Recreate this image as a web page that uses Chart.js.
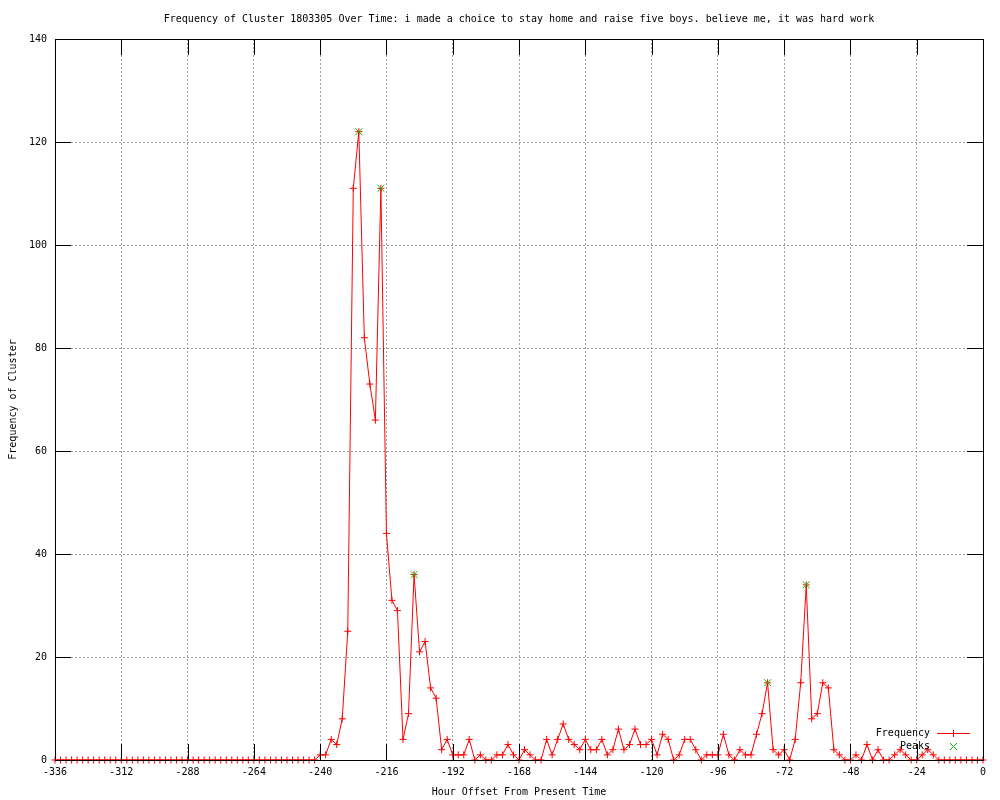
<!DOCTYPE html>
<html>
<head>
<meta charset="utf-8">
<script src="https://cdn.jsdelivr.net/npm/chart.js@4.4.1/dist/chart.umd.min.js"></script>
<style>
  html, body { margin: 0; padding: 0; background: #fff; }
  #chart-freq { display: block; }
</style>
</head>
<body>
<canvas id="chart-freq" width="1000" height="800"></canvas>
<script>
// hour offsets (2h bins)
var hours = [
  -336,-334,-332,-330,-328,-326,-324,-322,-320,-318,-316,-314,
  -312,-310,-308,-306,-304,-302,-300,-298,-296,-294,-292,-290,
  -288,-286,-284,-282,-280,-278,-276,-274,-272,-270,-268,-266,
  -264,-262,-260,-258,-256,-254,-252,-250,-248,-246,-244,-242,
  -240,-238,-236,-234,-232,-230,-228,-226,-224,-222,-220,-218,
  -216,-214,-212,-210,-208,-206,-204,-202,-200,-198,-196,-194,
  -192,-190,-188,-186,-184,-182,-180,-178,-176,-174,-172,-170,
  -168,-166,-164,-162,-160,-158,-156,-154,-152,-150,-148,-146,
  -144,-142,-140,-138,-136,-134,-132,-130,-128,-126,-124,-122,
  -120,-118,-116,-114,-112,-110,-108,-106,-104,-102,-100,-98,
  -96,-94,-92,-90,-88,-86,-84,-82,-80,-78,-76,-74,
  -72,-70,-68,-66,-64,-62,-60,-58,-56,-54,-52,-50,
  -48,-46,-44,-42,-40,-38,-36,-34,-32,-30,-28,-26,
  -24,-22,-20,-18,-16,-14,-12,-10,-8,-6,-4,-2,
  0
];
// frequency per bin
var freq = [
  0,0,0,0,0,0,0,0,0,0,0,0,
  0,0,0,0,0,0,0,0,0,0,0,0,
  0,0,0,0,0,0,0,0,0,0,0,0,
  0,0,0,0,0,0,0,0,0,0,0,0,
  1,1,4,3,8,25,111,122,82,73,66,111,
  44,31,29,4,9,36,21,23,14,12,2,4,
  1,1,1,4,0,1,0,0,1,1,3,1,
  0,2,1,0,0,4,1,4,7,4,3,2,
  4,2,2,4,1,2,6,2,3,6,3,3,
  4,1,5,4,0,1,4,4,2,0,1,1,
  1,5,1,0,2,1,1,5,9,15,2,1,
  2,0,4,15,34,8,9,15,14,2,1,0,
  0,1,0,3,0,2,0,0,1,2,1,0,
  0,1,2,1,0,0,0,0,0,0,0,0,
  0
];
// detected peaks
var peakHours  = [-226, -218, -206, -78, -64];
var peakValues = [122, 111, 36, 15, 34];

var xTicks = [-336,-312,-288,-264,-240,-216,-192,-168,-144,-120,-96,-72,-48,-24,0];
var yTicks = [0,20,40,60,80,100,120,140];

var titleText = 'Frequency of Cluster 1803305 Over Time: i made a choice to stay home and raise five boys. believe me, it was hard work';

var RED = '#ff0000';
var GREEN = '#00c000';

Chart.defaults.font.family = 'DejaVu Sans Mono';
Chart.defaults.font.size = 10;
Chart.defaults.color = '#000';

// border box, inward tics, gnuplot style key
var frame = {
  id: 'frame',
  afterDatasetsDraw: function(chart) {
    var ctx = chart.ctx, a = chart.chartArea;
    var xs = chart.scales.x, ys = chart.scales.y;
    var tl = 16;
    ctx.save();
    ctx.strokeStyle = '#000';
    ctx.lineWidth = 1;
    ctx.setLineDash([]);
    ctx.beginPath();
    ctx.rect(Math.round(a.left) + 0.5, Math.round(a.top) + 0.5,
             Math.round(a.right - a.left), Math.round(a.bottom - a.top));
    xTicks.forEach(function(v) {
      var px = Math.round(xs.getPixelForValue(v)) + 0.5;
      ctx.moveTo(px, a.bottom); ctx.lineTo(px, a.bottom - tl);
      ctx.moveTo(px, a.top); ctx.lineTo(px, a.top + tl);
    });
    yTicks.forEach(function(v) {
      var py = Math.round(ys.getPixelForValue(v)) + 0.5;
      ctx.moveTo(a.left, py); ctx.lineTo(a.left + tl, py);
      ctx.moveTo(a.right, py); ctx.lineTo(a.right - tl, py);
    });
    ctx.stroke();
    ctx.restore();

    // key
    var kx = 930, ky = 733;
    var keyColors = [RED, GREEN];
    chart.data.datasets.forEach(function(ds, i) {
      var y = ky + i * 13;
      ctx.save();
      ctx.font = '10px DejaVu Sans Mono';
      ctx.textAlign = 'right';
      ctx.textBaseline = 'middle';
      ctx.fillStyle = '#000';
      ctx.fillText(ds.label, kx, y + 0.5);
      ctx.fillStyle = keyColors[i];
      if (ds.showLine !== false) {
        ctx.fillRect(937, y, 33, 1);
        ctx.fillRect(953, y - 3, 1, 7);
      } else {
        for (var d = -3; d <= 3; d++) {
          ctx.fillRect(953 + d, y + d, 1, 1);
          ctx.fillRect(953 + d, y - d, 1, 1);
        }
      }
      ctx.restore();
    });
  }
};

var config = {
  type: 'line',
  data: {
    datasets: [{
      label: 'Frequency',
      data: hours.map(function(h, i) { return { x: h, y: freq[i] }; }),
      borderColor: RED,
      backgroundColor: RED,
      borderWidth: 1,
      tension: 0,
      pointStyle: 'cross',
      pointRadius: 3.5,
      pointBorderWidth: 1,
      pointBorderColor: RED,
      clip: false,
      order: 1
    }, {
      label: 'Peaks',
      data: peakHours.map(function(h, i) { return { x: h, y: peakValues[i] }; }),
      showLine: false,
      borderColor: GREEN,
      backgroundColor: GREEN,
      pointStyle: 'crossRot',
      pointRadius: 5,
      pointBorderWidth: 1,
      pointBorderColor: GREEN,
      clip: false,
      order: 0
    }]
  },
  options: {
    responsive: false,
    animation: false,
    layout: { padding: { left: 0, right: 17, top: 0, bottom: 0 } },
    plugins: {
      legend: { display: false },
      tooltip: { enabled: false },
      title: {
        display: true,
        fullSize: false,
        text: titleText,
        font: { size: 10, weight: 'normal' },
        color: '#000',
        padding: { top: 13, bottom: 14 }
      }
    },
    scales: {
      x: {
        type: 'linear',
        min: -336, max: 0,
        afterFit: function(s) { s.height = 40; },
        ticks: { stepSize: 24, autoSkip: false, maxRotation: 0, padding: 6, color: '#000' },
        grid: { color: '#a0a0a0', lineWidth: 1, drawTicks: false },
        border: { display: false, dash: [2, 2] },
        title: { display: true, text: 'Hour Offset From Present Time', color: '#000', padding: { top: 0, bottom: 2 } }
      },
      y: {
        min: 0, max: 140,
        afterFit: function(s) { s.width = 55; },
        ticks: { stepSize: 20, padding: 8, color: '#000' },
        grid: { color: '#a0a0a0', lineWidth: 1, drawTicks: false },
        border: { display: false, dash: [2, 2] },
        title: { display: true, text: 'Frequency of Cluster', color: '#000', padding: { top: 7, bottom: 0 } }
      }
    }
  },
  plugins: [frame]
};

new Chart(document.getElementById('chart-freq').getContext('2d'), config);
</script>
</body>
</html>
